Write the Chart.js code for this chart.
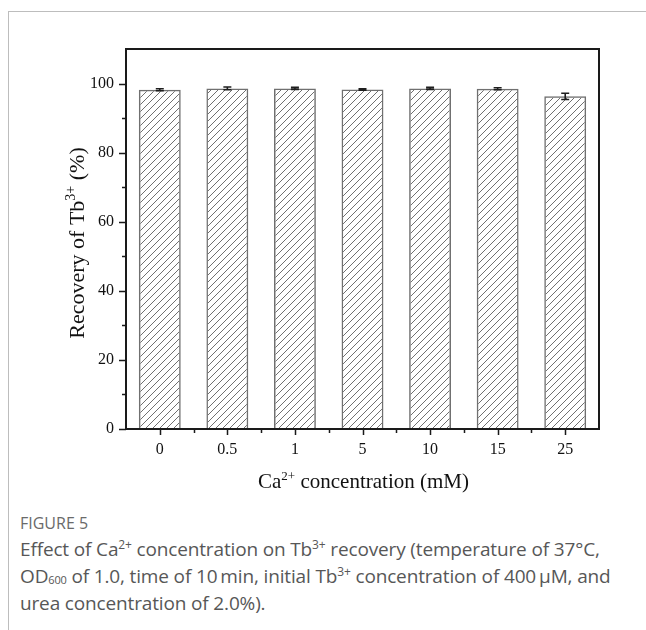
<!DOCTYPE html>
<html>
<head>
<meta charset="utf-8">
<script src="https://cdn.jsdelivr.net/npm/chart.js@4.4.0/dist/chart.umd.min.js"></script>
<style>
  body { margin: 0; background: #fff; width: 646px; height: 630px; overflow: hidden; position: relative; }
  .frame { position: absolute; left: 8px; top: 11px; width: 660px; height: 640px; border-left: 1px solid #bdbdbd; border-top: 1px solid #bdbdbd; }
  #wrap { position: absolute; left: 0; top: 0; width: 646px; height: 500px; }
  .cap-head { position: absolute; left: 20px; top: 512px; font: 16px "Open Sans", sans-serif; color: #6a6a6a; }
  .cap { position: absolute; left: 20px; top: 536px; font: 19px "Open Sans", sans-serif; line-height: 27px; color: #575757; white-space: nowrap; letter-spacing: -0.15px; }
  .cap sup { font-size: 12px; line-height: 0; }
  .cap sub { font-size: 11px; line-height: 0; vertical-align: -1px; }
</style>
</head>
<body>
<div class="frame"></div>
<div id="wrap"><canvas id="chart" width="646" height="500"></canvas></div>
<div class="cap-head">FIGURE 5</div>
<div class="cap">Effect of Ca<sup>2+</sup> concentration on Tb<sup>3+</sup> recovery (temperature of 37°C,<br>OD<sub>600</sub> of 1.0, time of 10&thinsp;min, initial Tb<sup>3+</sup> concentration of 400&thinsp;μM, and<br>urea concentration of 2.0%).</div>
<script>
// data
const categories = ['0', '0.5', '1', '5', '10', '15', '25'];
const recovery = [98.2, 98.6, 98.6, 98.3, 98.6, 98.5, 96.3];
const errors = [0.3, 0.4, 0.3, 0.2, 0.3, 0.3, 0.9];
const yMin = 0;
const yMax = 110;
const yLabelStep = 20;
const yMinorStep = 10;

const serif = '"Liberation Serif", "Times New Roman", serif';

// diagonal hatch for the bars
function makeHatch() {
  const s = 7;
  const c = document.createElement('canvas');
  c.width = s; c.height = s;
  const g = c.getContext('2d');
  g.strokeStyle = '#707070';
  g.lineWidth = 1;
  g.beginPath();
  g.moveTo(0, s); g.lineTo(s, 0);
  g.moveTo(-s / 2, s / 2); g.lineTo(s / 2, -s / 2);
  g.moveTo(s / 2, s * 1.5); g.lineTo(s * 1.5, s / 2);
  g.stroke();
  return g.createPattern(c, 'repeat');
}

// text with superscript pieces, parts = [[text, isSup], ...]
function drawParts(ctx, parts, size, x, y) {
  const supSize = Math.round(size * 0.62);
  let w = 0;
  parts.forEach(([t, sup]) => {
    ctx.font = (sup ? supSize : size) + 'px ' + serif;
    w += ctx.measureText(t).width;
  });
  let cx = x - w / 2;
  ctx.textAlign = 'left';
  ctx.textBaseline = 'alphabetic';
  parts.forEach(([t, sup]) => {
    ctx.font = (sup ? supSize : size) + 'px ' + serif;
    ctx.fillText(t, cx, sup ? y - size * 0.4 : y);
    cx += ctx.measureText(t).width;
  });
}

const decorations = {
  id: 'decorations',
  afterDatasetsDraw(chart) {
    const { ctx, scales: { x, y } } = chart;
    ctx.save();
    ctx.strokeStyle = '#1e1e1e';
    ctx.lineWidth = 1.6;
    recovery.forEach((v, i) => {
      const px = x.getPixelForValue(i);
      const top = y.getPixelForValue(v + errors[i]);
      const bot = y.getPixelForValue(v - errors[i]);
      ctx.beginPath();
      ctx.moveTo(px, top); ctx.lineTo(px, bot);
      ctx.moveTo(px - 4, top); ctx.lineTo(px + 4, top);
      ctx.moveTo(px - 4, bot); ctx.lineTo(px + 4, bot);
      ctx.stroke();
    });
    ctx.restore();
  },
  afterDraw(chart) {
    const { ctx, chartArea: a, scales: { x, y } } = chart;
    ctx.save();
    ctx.strokeStyle = '#1a1a1a';
    ctx.lineWidth = 2;
    ctx.strokeRect(a.left, a.top, a.right - a.left, a.bottom - a.top);

    // y ticks, pointing out
    ctx.lineWidth = 1.5;
    ctx.beginPath();
    for (let v = yMin; v < yMax; v += yMinorStep) {
      const py = Math.round(y.getPixelForValue(v)) + 0.5;
      const len = v % yLabelStep === 0 ? 7 : 4;
      ctx.moveTo(a.left - len, py); ctx.lineTo(a.left, py);
    }
    // x ticks: major at the bars, minor between them
    const n = categories.length;
    for (let i = 0; i < n; i++) {
      const px = Math.round(x.getPixelForValue(i)) + 0.5;
      ctx.moveTo(px, a.bottom); ctx.lineTo(px, a.bottom + 6);
      if (i < n - 1) {
        const mx = Math.round((x.getPixelForValue(i) + x.getPixelForValue(i + 1)) / 2) + 0.5;
        ctx.moveTo(mx, a.bottom); ctx.lineTo(mx, a.bottom + 4);
      }
    }
    ctx.stroke();

    ctx.fillStyle = '#111';
    // x title
    drawParts(ctx, [['Ca', false], ['2+', true], [' concentration (mM)', false]], 21, (a.left + a.right) / 2 + 1, 488);
    // y title
    ctx.translate(84, (a.top + a.bottom) / 2 + 4);
    ctx.rotate(-Math.PI / 2);
    drawParts(ctx, [['Recovery of Tb', false], ['3+', true], [' (%)', false]], 22, 0, 0);
    ctx.restore();
  }
};

new Chart(document.getElementById('chart'), {
  type: 'bar',
  data: {
    labels: categories,
    datasets: [{
      data: recovery,
      backgroundColor: makeHatch(),
      borderColor: '#707070',
      borderWidth: 1.5,
      categoryPercentage: 1,
      barPercentage: 0.62
    }]
  },
  options: {
    responsive: false,
    animation: false,
    layout: { padding: { left: 0, right: 47, top: 49, bottom: 0 } },
    plugins: { legend: { display: false }, tooltip: { enabled: false } },
    scales: {
      x: {
        grid: { display: false, drawTicks: false },
        border: { display: false },
        ticks: { color: '#111', font: { family: serif, size: 16 }, padding: 11 },
        afterFit(s) { s.height = 71; }
      },
      y: {
        min: yMin,
        max: yMax,
        grid: { display: false, drawTicks: false },
        border: { display: false },
        ticks: {
          stepSize: yMinorStep,
          color: '#111',
          font: { family: serif, size: 16 },
          padding: 12,
          callback: (v) => (v % yLabelStep === 0 && v < yMax ? v : '')
        },
        afterFit(s) { s.width = 126; }
      }
    }
  },
  plugins: [decorations]
});
</script>
</body>
</html>
